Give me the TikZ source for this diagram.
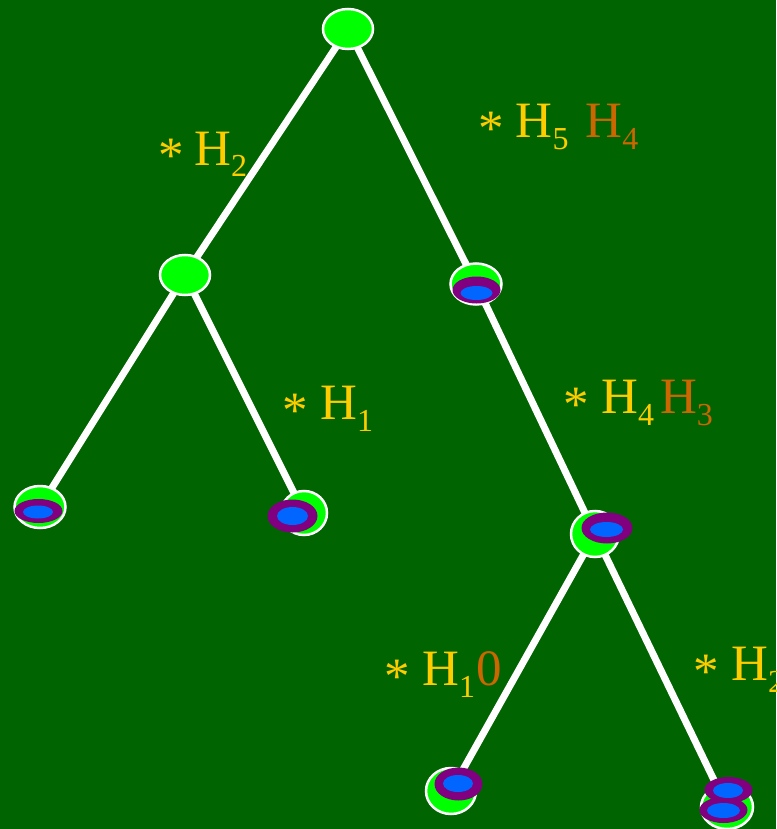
\documentclass[tikz,border=0pt]{standalone}
\usepackage{fontspec}
\setmainfont{Liberation Serif}
\usetikzlibrary{shapes.geometric}
\pgfdeclarelayer{bg}
\pgfsetlayers{bg,main}
\definecolor{bgg}{RGB}{0,100,0}
\definecolor{lime}{RGB}{0,255,0}
\definecolor{purp}{RGB}{128,0,128}
\definecolor{blu}{RGB}{0,102,255}
\definecolor{gold}{RGB}{255,204,0}
\definecolor{rust}{RGB}{204,102,0}
\newcommand\subn[1]{\raisebox{-12pt}{\fontsize{32}{32}\selectfont #1}}
\newcommand\astk{\raisebox{-8pt}{*}}
\begin{document}
\begin{tikzpicture}[x=1pt,y=-1pt,
  gnode/.style={ellipse, draw=white, line width=2.5pt, fill=lime, inner sep=0pt},
  ring/.style={ellipse, fill=purp, inner sep=0pt},
  core/.style={ellipse, fill=blu, inner sep=0pt},
  link/.style={draw=white, line width=7pt},
  lbl/.style={anchor=base west, inner sep=0pt, text=gold, font=\fontsize{51}{51}\selectfont}]
\useasboundingbox (0,0) rectangle (776,829);
\clip (0,0) rectangle (776,829);

% green nodes
\node[gnode, minimum width=50pt, minimum height=40pt] (r) at (348,29) {};
\node[gnode, minimum width=50pt, minimum height=40pt] (l) at (185,275) {};
\node[gnode, minimum width=51pt, minimum height=41pt] (rr) at (476,284) {};
\node[gnode, minimum width=51pt, minimum height=42pt] (ll) at (40,507) {};
\node[gnode, minimum width=46pt, minimum height=44pt] (lr) at (304,513) {};
\node[gnode, minimum width=48pt, minimum height=46pt] (m) at (595,534) {};
\node[gnode, minimum width=50pt, minimum height=46pt] (bl) at (451,791) {};
\node[gnode, minimum width=52pt, minimum height=44pt] (br) at (727,807) {};

% background and connectors
\begin{pgfonlayer}{bg}
\fill[bgg] (0,0) rectangle (776,829);
\draw[link] (r.center) -- (l.center);
\draw[link] (r.center) -- (rr.center);
\draw[link] (l.center) -- (ll.center);
\draw[link] (l.center) -- (lr.center);
\draw[link] (rr.center) -- (m.center);
\draw[link] (m.center) -- (bl.center);
\draw[link] (m.center) -- (br.center);
\end{pgfonlayer}

% purple rings with blue cores
\node[ring, minimum width=48pt, minimum height=27pt] (p1) at (476.5,290) {};
\node[core, minimum width=32pt, minimum height=14pt] (c1) at (476.5,293) {};
\node[ring, minimum width=48pt, minimum height=24pt] (p2) at (38.5,511) {};
\node[core, minimum width=30pt, minimum height=13pt] (c2) at (38,512) {};
\node[ring, minimum width=50pt, minimum height=33pt] (p3) at (292.5,516) {};
\node[core, minimum width=31pt, minimum height=18pt] (c3) at (292.5,516) {};
\node[ring, minimum width=51pt, minimum height=31pt] (p4) at (607,528) {};
\node[core, minimum width=33pt, minimum height=15pt] (c4) at (606.5,529.5) {};
\node[ring, minimum width=48pt, minimum height=33pt] (p5) at (458.5,784) {};
\node[core, minimum width=30pt, minimum height=17pt] (c5) at (458,783.5) {};
\node[ring, minimum width=48pt, minimum height=26pt] (p6) at (723.5,810) {};
\node[core, minimum width=33pt, minimum height=15pt] (c6) at (723.5,810.5) {};
\node[ring, minimum width=48pt, minimum height=26pt] (p7) at (728.5,790) {};
\node[core, minimum width=30pt, minimum height=15pt] (c7) at (728,790.5) {};

% labels
\node[lbl] (t1) at (158.5,165) {\astk\hspace{10pt}H\subn{2}};
\node[lbl] (t2) at (478.5,138) {\astk\hspace{11.5pt}H\subn{5}\hspace{17pt}\textcolor{rust}{H\subn{4}}};
\node[lbl] (t3) at (282.5,419) {\astk\hspace{12pt}H\subn{1}};
\node[lbl] (t4) at (563.5,413) {\astk\hspace{12pt}H\subn{4}\hspace{6pt}\textcolor{rust}{H\subn{3}}};
\node[lbl] (t5) at (384.5,685) {\astk\hspace{12pt}H\subn{1}\hspace{1.5pt}\textcolor{rust}{0}};
\node[lbl] (t6) at (693.5,680) {\astk\hspace{12pt}H\subn{2}};
\end{tikzpicture}
\end{document}
